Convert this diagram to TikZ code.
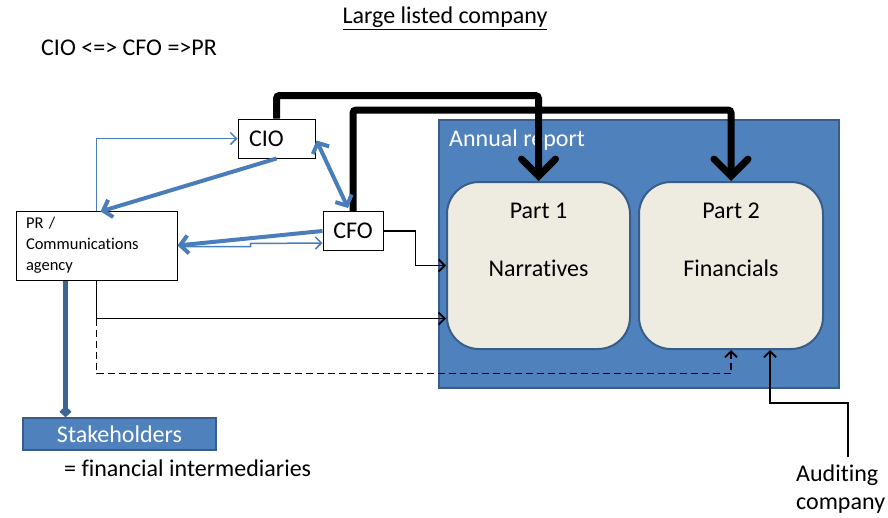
\documentclass[tikz,border=0pt]{standalone}
\usepackage{fontspec}
\setmainfont[Ligatures=NoCommon]{Carlito}
\usetikzlibrary{arrows.meta,calc}
\definecolor{ofblue}{HTML}{4F81BD}
\definecolor{ofdark}{HTML}{385D8A}
\definecolor{arblue}{HTML}{4A7EBB}
\definecolor{tanfill}{HTML}{EEECE1}
\begin{document}
\begin{tikzpicture}[x=1pt,y=-1pt,
  big/.style={font=\fontsize{24}{28}\selectfont},
  wbox/.style={draw=black, line width=1pt, fill=white, inner sep=0pt},
  partbox/.style={draw=ofdark, line width=2pt, fill=tanfill, rounded corners=32pt,
    minimum width=183pt, minimum height=167pt, inner sep=0pt},
  thickbk/.style={line width=7pt, rounded corners=3pt,
    -{Straight Barb[length=17pt,width=34pt,line cap=round]}},
  bluethick/.style={draw=arblue, line width=4pt,
    -{Straight Barb[length=8pt,width=18pt]}},
  bluethin/.style={draw=arblue, line width=1.5pt,
    -{Straight Barb[length=6pt,width=12pt]}},
  blackthin/.style={draw=black, line width=1.8pt,
    -{Straight Barb[length=6pt,width=12pt]}},
]
\useasboundingbox (0,0) rectangle (888,517);

% titles
\node[big] (title) at (445,18) {\underline{Large listed company}};
\node[big, anchor=west, inner sep=0pt] (sub) at (41,48) {CIO <=> CFO =>PR};

% annual report
\node[draw=ofdark, line width=2pt, fill=ofblue, minimum width=400pt, minimum height=268pt,
  anchor=north west, inner sep=0pt] (AR) at (438,119) {};
\node[big, text=white, anchor=west, inner sep=0pt] (ARt) at (449,140) {Annual report};
\node[partbox] (P1) at (538.5,265.5) {};
\node[partbox, minimum width=184pt] (P2) at (731,265.5) {};
\node[big] (P1a) at (538.5,211) {Part 1};
\node[big] (P1b) at (538.5,268) {Narratives};
\node[big] (P2a) at (731,211) {Part 2};
\node[big] (P2b) at (731,268) {Financials};

% people boxes
\node[wbox, big, minimum width=77pt, minimum height=39pt, text width=55pt,
  inner xsep=11pt, align=left] (CIO) at (276.5,138.5) {CIO};
\node[wbox, big, minimum width=60pt, minimum height=39pt] (CFO) at (353,231) {CFO};
\node[wbox, font=\fontsize{16.5}{21}\selectfont, minimum width=161pt, minimum height=69pt,
  text width=141pt, inner xsep=10pt, align=left] (PR) at (96.5,245.5)
  {PR /\\Communications\\agency};

% stakeholders
\node[draw=ofdark, line width=1.5pt, fill=ofblue, text=white,
  font=\fontsize{24}{28}\selectfont, minimum width=193pt, minimum height=32pt,
  inner sep=0pt] (SH) at (119.5,434) {Stakeholders};
\node[font=\fontsize{24}{28}\selectfont, anchor=west, inner sep=0pt] (fin) at (64,468)
  {= financial intermediaries};
\node[font=\fontsize{24}{28}\selectfont, align=left, anchor=north west, inner sep=0pt]
  (AUD) at (796,465) {Auditing\\company};

% thick black connectors
\draw[thickbk] (CIO.north) -- ($(CIO.north)+(0,-23)$) -| (P1.north);
\draw[thickbk] (CFO.north) -- ($(CFO.north)+(0,-101)$) -| (P2.north);

% blue connectors
\draw[bluethick, {Straight Barb[length=8pt,width=18pt]}-{Straight Barb[length=8pt,width=18pt]}]
  ($(CIO.east)+(1,2)$) -- ($(CFO.north)+(-5,-3)$);
\draw[bluethick] (CIO.south) -- ($(PR.north)+(4,1)$);
\draw[bluethin] (PR.north) |- (CIO.west);
\draw[bluethick] (CFO.west) -- (PR.east);
\draw[bluethin] ($(PR.east)+(2,1)$) -- ++(71,0) -- ++(0,-3) -- ($(CFO.west)+(0,12)$);

% black thin connectors
\draw[blackthin] (CFO.east) -- ++(32,0) |- (P1.west);
\coordinate (j1) at ($(PR.south)+(0,38)$);
\draw[blackthin] (PR.south) -- (j1) -- (j1 -| P1.west);
\draw[blackthin, dash pattern=on 7pt off 4pt] (j1) -- ++(0,55) -| (P2.south);
\coordinate (a1) at ($(AUD.north west)+(52,-8)$);
\draw[blackthin] (a1) -- ++(0,-54) -| ($(P2.south)+(39,0)$);

% stakeholders arrow
\coordinate (s0) at ($(PR.south west)+(50,0)$);
\draw[draw=ofdark!80!arblue, line width=4.5pt, -{Straight Barb[length=4pt,width=9pt]}]
  (s0) -- (s0 |- SH.north);
\end{tikzpicture}
\end{document}
